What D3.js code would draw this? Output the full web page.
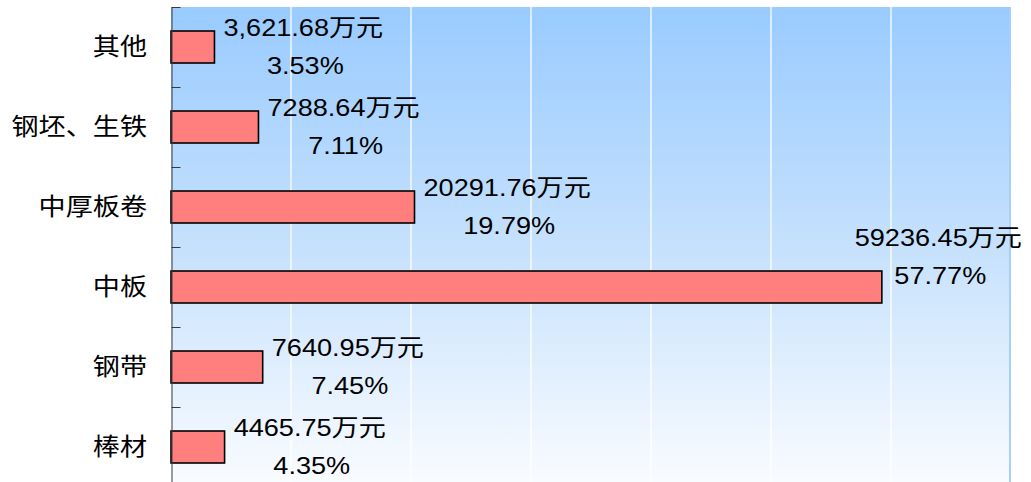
<!DOCTYPE html>
<html>
<head>
<meta charset="utf-8">
<script src="https://cdn.jsdelivr.net/npm/d3@7"></script>
<style>
  body { margin: 0; background: #fff; }
  text { font-family: "Liberation Sans", Arial, "Noto Sans CJK SC", sans-serif; font-size: 24px; fill: #000; }
</style>
</head>
<body>
<div id="chart"></div>
<script>
var categories = ['其他', '钢坯、生铁', '中厚板卷', '中板', '钢带', '棒材'];
var values = [3621.68, 7288.64, 20291.76, 59236.45, 7640.95, 4465.75];
var valueLabels = ['3,621.68万元', '7288.64万元', '20291.76万元', '59236.45万元', '7640.95万元', '4465.75万元'];
var percentLabels = ['3.53%', '7.11%', '19.79%', '57.77%', '7.45%', '4.35%'];
var xTicks = [0, 10000, 20000, 30000, 40000, 50000, 60000, 70000];

var chartWidth = 1031;
var chartHeight = 482;
var plotLeft = 171;
var plotRight = 1011;
var plotTop = 7;
var bandSize = 80;
var stretch = 1.13;

var svg = d3.select('#chart')
    .append('svg')
    .attr('width', chartWidth)
    .attr('height', chartHeight);

var scaleX = d3.scaleLinear()
    .domain([0, 70000])
    .range([plotLeft, plotRight]);

var plotBottom = plotTop + bandSize * categories.length;

var scaleY = d3.scaleBand()
    .domain(categories)
    .range([plotTop, plotBottom])
    .paddingInner(0.6)
    .paddingOuter(0.3);

// Background gradient
var grad = svg.append('defs').append('linearGradient')
    .attr('id', 'bg')
    .attr('x1', 0).attr('y1', 0)
    .attr('x2', 0).attr('y2', 1);
grad.append('stop').attr('offset', '0%').attr('stop-color', '#99CBFF');
grad.append('stop').attr('offset', '50%').attr('stop-color', '#C6E1FD');
grad.append('stop').attr('offset', '100%').attr('stop-color', '#FAFCFF');

svg.append('rect')
    .attr('x', plotLeft)
    .attr('y', plotTop)
    .attr('width', plotRight - plotLeft)
    .attr('height', plotBottom - plotTop)
    .attr('fill', 'url(#bg)');

// Gridlines
svg.append('g')
    .selectAll('line')
    .data(xTicks.slice(1, -1))
    .enter()
    .append('line')
    .attr('x1', function(d) { return scaleX(d); })
    .attr('x2', function(d) { return scaleX(d); })
    .attr('y1', plotTop)
    .attr('y2', plotBottom)
    .attr('stroke', '#fff')
    .attr('stroke-opacity', 0.85)
    .attr('stroke-width', 1.5);

// right border
svg.append('line')
    .attr('x1', scaleX(70000) - 1)
    .attr('x2', scaleX(70000) - 1)
    .attr('y1', plotTop)
    .attr('y2', plotBottom)
    .attr('stroke', '#A6CFFF')
    .attr('stroke-width', 2);

// Bars
svg.append('g')
    .selectAll('rect')
    .data(values)
    .enter()
    .append('rect')
    .attr('x', scaleX(0))
    .attr('y', function(d, i) { return scaleY(categories[i]); })
    .attr('width', function(d) { return scaleX(d) - scaleX(0); })
    .attr('height', scaleY.bandwidth())
    .attr('fill', '#FF7F7F')
    .attr('stroke', '#000')
    .attr('stroke-width', 1.6);

// Y axis with ticks between categories
var scaleTicks = d3.scaleLinear()
    .domain([0, categories.length])
    .range([plotTop, plotBottom]);

var axisY = d3.axisLeft(scaleTicks)
    .tickValues(d3.range(categories.length + 1))
    .tickSize(-9)
    .tickSizeOuter(0)
    .tickFormat('');

var gAxis = svg.append('g')
    .attr('transform', 'translate(' + (plotLeft + 0.5) + ',0)')
    .call(axisY);
gAxis.selectAll('path, line').attr('stroke', '#3a3a3a');

// Category labels
svg.append('g')
    .selectAll('text')
    .data(categories)
    .enter()
    .append('text')
    .attr('text-anchor', 'end')
    .attr('transform', function(d) {
      var cy = scaleY(d) + scaleY.bandwidth() / 2;
      return 'translate(147,' + (cy + 8) + ') scale(' + stretch + ',1)';
    })
    .text(function(d) { return d; });

// Data labels
var labels = svg.append('g')
    .selectAll('g')
    .data(values)
    .enter()
    .append('g');

labels.append('text')
    .attr('class', 'v')
    .attr('text-anchor', 'middle')
    .text(function(d, i) { return valueLabels[i]; });

labels.append('text')
    .attr('class', 'p')
    .attr('text-anchor', 'middle')
    .text(function(d, i) { return percentLabels[i]; });

labels.each(function(d, i) {
  var g = d3.select(this);
  var w = g.select('.v').node().getComputedTextLength() * stretch;
  var cy = scaleY(categories[i]) + scaleY.bandwidth() / 2;
  var x0 = scaleX(d) + 9;
  if (x0 + w > chartWidth - 9) {
    x0 = chartWidth - 9 - w;
    cy -= 30;
  }
  var cx = x0 + w / 2;
  g.select('.v').attr('transform', 'translate(' + cx + ',' + (cy - 11) + ') scale(' + stretch + ',1)');
  g.select('.p').attr('transform', 'translate(' + (cx + 2) + ',' + (cy + 27) + ') scale(' + stretch + ',1)');
});
</script>
</body>
</html>
